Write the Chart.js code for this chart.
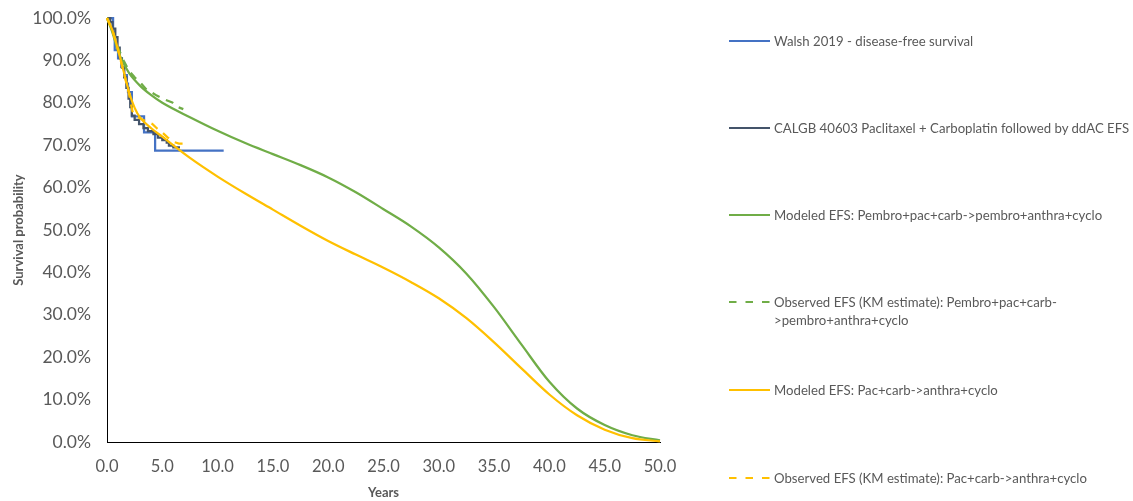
<!DOCTYPE html>
<html>
<head>
<meta charset="utf-8">
<script src="https://cdn.jsdelivr.net/npm/chart.js@4"></script>
<style>
  html, body { margin: 0; padding: 0; background: #fff; }
  #wrap { position: relative; width: 1133px; height: 501px; overflow: hidden; }
  #chart { position: absolute; left: 0; top: 0; }
  #legend { position: absolute; left: 0; top: 0; width: 1133px; height: 501px; pointer-events: none;
            font-family: Lato, "Open Sans", sans-serif; font-size: 13.2px; color: #595959; }
  .item { position: absolute; left: 729px; line-height: 18px; white-space: pre; }
  .item svg { position: absolute; left: 0; top: 0; }
  .item span { position: absolute; left: 45px; top: 0; }
</style>
</head>
<body>
<div id="wrap">
  <canvas id="chart" width="1133" height="501"></canvas>
  <div id="legend"></div>
</div>
<script>
// Walsh 2019 disease-free survival (Kaplan-Meier steps), years / %
const walshYears = [0, 0.55, 0.7, 1.0, 1.3, 1.55, 1.8, 1.9, 2.25, 3.35, 4.35, 10.55];
const walshDFS   = [100, 96.5, 92.4, 90.5, 88.5, 86.5, 84.5, 82.5, 76.8, 73.0, 68.7, 68.7];

// CALGB 40603 paclitaxel + carboplatin followed by ddAC, EFS steps
const calgbYears = [0, 0.3, 0.5, 0.75, 0.95, 1.15, 1.35, 1.55, 1.75, 1.95, 2.1, 2.25, 2.5, 2.9, 3.3, 3.7, 4.2, 4.6, 5.0, 5.4, 5.6, 6.0, 6.6];
const calgbEFS   = [100, 99.0, 97.5, 95.5, 93.0, 90.5, 88.3, 86.0, 83.5, 81.0, 79.0, 77.0, 76.0, 75.0, 74.0, 73.3, 72.6, 71.8, 71.2, 70.6, 69.9, 69.5, 69.5];

// Modeled EFS, pembro arm
const pembroModelYears = [0, 0.5, 1, 1.5, 2, 3, 4, 5, 7.5, 10, 12.5, 15, 17.5, 20, 22.5, 25, 27.5, 30, 32.5, 35, 37.5, 40, 42.5, 45, 47.5, 50];
const pembroModelEFS   = [100, 96.5, 92.2, 89.3, 87.0, 84.0, 81.8, 80.0, 76.6, 73.4, 70.5, 67.9, 65.3, 62.4, 58.9, 54.9, 50.8, 45.9, 39.7, 31.8, 22.9, 14.2, 7.9, 4.0, 1.6, 0.4];

// Observed EFS (KM), pembro arm
const pembroObsYears = [0, 0.5, 1.0, 1.5, 2.0, 2.5, 3.0, 3.5, 4.0, 4.5, 5.2, 5.9, 6.4, 6.9];
const pembroObsEFS   = [100, 97.0, 93.0, 90.0, 87.5, 86.0, 84.8, 83.3, 82.5, 81.7, 80.8, 80.1, 79.0, 78.5];

// Modeled EFS, pac+carb arm
const pacModelYears = [0, 0.5, 1, 1.5, 2, 2.5, 3, 4, 5, 7.5, 10, 12.5, 15, 17.5, 20, 22.5, 25, 27.5, 30, 32.5, 35, 37.5, 40, 42.5, 45, 47.5, 50];
const pacModelEFS   = [100, 97.0, 92.5, 87.5, 82.5, 78.8, 76.5, 74.0, 72.0, 67.0, 62.6, 58.6, 54.8, 51.0, 47.4, 44.2, 41.1, 37.7, 33.9, 29.2, 23.5, 17.3, 11.2, 6.3, 2.9, 0.9, 0.15];

// Observed EFS (KM), pac+carb arm
const pacObsYears = [0, 0.5, 1, 1.5, 2.0, 2.3, 2.6, 3.0, 3.5, 4.1, 4.5, 5.0, 5.5, 6.0, 6.5, 7.1];
const pacObsEFS   = [100, 97.0, 92.5, 87.3, 82.0, 78.0, 77.0, 76.3, 75.7, 75.0, 74.0, 73.0, 71.8, 70.8, 70.4, 70.4];

const xTicks = [0, 5, 10, 15, 20, 25, 30, 35, 40, 45, 50];
const yTicks = [0, 10, 20, 30, 40, 50, 60, 70, 80, 90, 100];

const labels = [
  'Walsh 2019 - disease-free survival',
  'CALGB 40603 Paclitaxel + Carboplatin followed by ddAC EFS',
  'Modeled EFS: Pembro+pac+carb->pembro+anthra+cyclo',
  'Observed EFS (KM estimate): Pembro+pac+carb-\n>pembro+anthra+cyclo',
  'Modeled EFS: Pac+carb->anthra+cyclo',
  'Observed EFS (KM estimate): Pac+carb->anthra+cyclo'
];

const BLUE = '#4472C4', NAVY = '#44546A', GREEN = '#70AD47', GOLD = '#FFC000';
const DASH = [8, 7];

const pts = (xs, ys) => xs.map((x, i) => ({ x, y: ys[i] }));

const series = [
  { label: labels[0], data: pts(walshYears, walshDFS), borderColor: BLUE, stepped: true },
  { label: labels[1], data: pts(calgbYears, calgbEFS), borderColor: NAVY, stepped: true },
  { label: labels[2], data: pts(pembroModelYears, pembroModelEFS), borderColor: GREEN, cubicInterpolationMode: 'monotone' },
  { label: labels[3], data: pts(pembroObsYears, pembroObsEFS), borderColor: GREEN, borderDash: DASH },
  { label: labels[4], data: pts(pacModelYears, pacModelEFS), borderColor: GOLD, cubicInterpolationMode: 'monotone' },
  { label: labels[5], data: pts(pacObsYears, pacObsEFS), borderColor: GOLD, borderDash: DASH }
];

// later series sit on top of earlier ones
series.forEach((s, i) => {
  s.order = series.length - i;
  s.borderWidth = 2.25;
  s.pointRadius = 0;
  s.fill = false;
  s.clip = 6;
});

const FONT = 'Lato, "Open Sans", sans-serif';
const GREY = '#595959';

const chart = new Chart(document.getElementById('chart'), {
  type: 'line',
  data: { datasets: series },
  options: {
    responsive: false,
    animation: false,
    devicePixelRatio: 1,
    layout: { padding: { left: 0, right: 473, top: 18, bottom: 0 } },
    plugins: { legend: { display: false }, tooltip: { enabled: false } },
    scales: {
      x: {
        type: 'linear', min: 0, max: 50,
        afterBuildTicks: s => { s.ticks = xTicks.map(v => ({ value: v })); },
        afterFit: s => { s.height = 59; s.paddingLeft = 0; s.paddingRight = 0; },
        grid: { display: false, drawTicks: false },
        border: { display: true, color: '#000', width: 1 },
        ticks: { color: GREY, font: { family: FONT, size: 16.5 }, padding: 15, maxRotation: 0,
                 callback: v => Number(v).toFixed(1) },
        title: { display: true, text: 'Years', color: GREY, font: { family: FONT, size: 13, weight: 'bold' },
                 padding: { top: 0, bottom: 0 } }
      },
      y: {
        min: 0, max: 100,
        afterBuildTicks: s => { s.ticks = yTicks.map(v => ({ value: v })); },
        afterFit: s => { s.width = 107; s.paddingTop = 0; s.paddingBottom = 0; },
        grid: { display: false, drawTicks: false },
        border: { display: true, color: '#000', width: 1 },
        ticks: { color: GREY, font: { family: FONT, size: 17.5 }, padding: 16,
                 callback: v => Number(v).toFixed(1) + '%' },
        title: { display: true, text: 'Survival probability', color: GREY,
                 font: { family: FONT, size: 13, weight: 'bold' }, padding: { top: 11, bottom: 0 } }
      }
    }
  }
});

// legend built from the chart's own datasets
const legendCenters = [41, 128, 215, 302, 390, 478];
const legend = document.getElementById('legend');
chart.data.datasets.forEach((ds, i) => {
  const item = document.createElement('div');
  item.className = 'item';
  item.style.top = (legendCenters[i] - 9) + 'px';
  const dash = ds.borderDash ? 'stroke-dasharray="7.5 9"' : '';
  item.innerHTML =
    '<svg width="42" height="18"><line x1="0" y1="9" x2="41" y2="9" stroke="' + ds.borderColor +
    '" stroke-width="2" ' + dash + '/></svg>';
  const span = document.createElement('span');
  span.textContent = ds.label;
  item.appendChild(span);
  legend.appendChild(item);
});
</script>
</body>
</html>
